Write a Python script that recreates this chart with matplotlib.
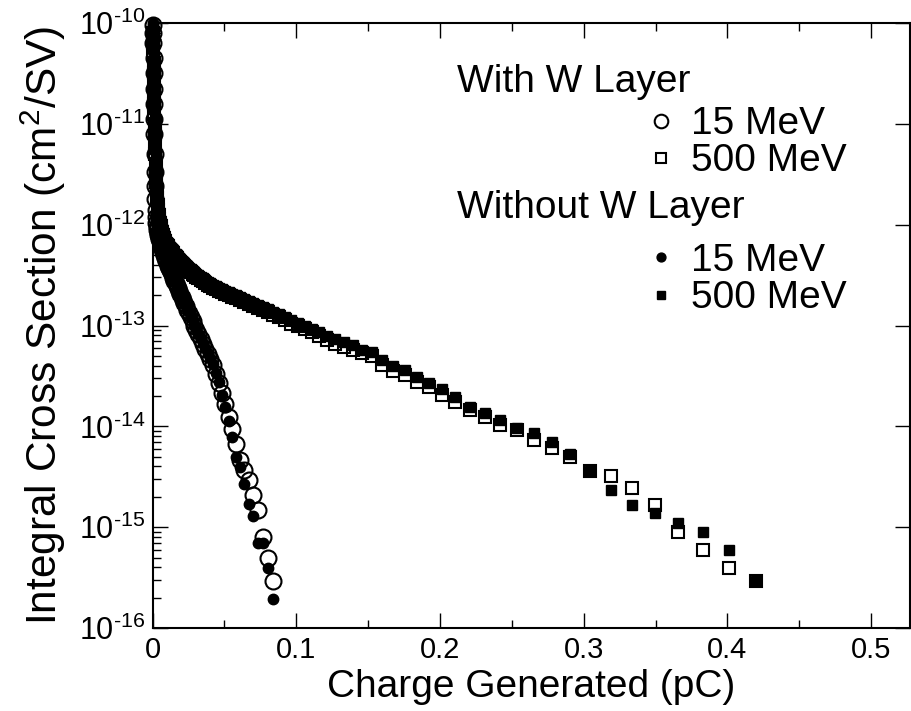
import numpy as np
import matplotlib.pyplot as plt
from matplotlib.ticker import LogLocator, MultipleLocator, NullFormatter

plt.rcParams['font.family'] = 'Liberation Sans'
plt.rcParams['mathtext.fontset'] = 'custom'
plt.rcParams['mathtext.rm'] = 'Liberation Sans'
plt.rcParams['mathtext.default'] = 'regular'

# charge thresholds (pC)
charge = [0.4200, 0.4011, 0.3831, 0.3659, 0.3495, 0.3338, 0.3188, 0.3045, 0.2908, 0.2778,
          0.2653, 0.2534, 0.2420, 0.2311, 0.2208, 0.2108, 0.2014, 0.1923, 0.1837, 0.1754,
          0.1676, 0.1600, 0.1528, 0.1460, 0.1394, 0.1332, 0.1272, 0.1215, 0.1160, 0.1108,
          0.1058, 0.1011, 0.0965, 0.0922, 0.0880, 0.0841, 0.0803, 0.0767, 0.0733, 0.0700,
          0.0668, 0.0638, 0.0610, 0.0582, 0.0556, 0.0531, 0.0507, 0.0485, 0.0463, 0.0442,
          0.0422, 0.0403, 0.0385, 0.0368, 0.0351, 0.0335, 0.0320, 0.0306, 0.0292, 0.0279,
          0.0266, 0.0254, 0.0243, 0.0232, 0.0222, 0.0212, 0.0202, 0.0193, 0.0184, 0.0176,
          0.0168, 0.0161, 0.0153, 0.0146, 0.0140, 0.0134, 0.0128, 0.0122, 0.0116, 0.0111,
          0.0106,
          0.0097, 0.0088, 0.0081, 0.0074, 0.0067, 0.0061, 0.0056, 0.0051, 0.0047, 0.0043,
          0.0039, 0.0035, 0.0032, 0.0029, 0.0026, 0.0024, 0.0022, 0.0020, 0.0018, 0.0016,
          0.0014, 0.0012, 0.0011, 0.0010, 0.0009, 0.0008, 0.0007, 0.0006, 0.0005, 0.0004]

# log10 of integral cross section (cm^2/SV)
sq_with_log = [-15.53, -15.40, -15.23, -15.05, -14.78, -14.61, -14.49, -14.44, -14.30, -14.21,
               -14.14, -14.04, -13.99, -13.91, -13.84, -13.76, -13.69, -13.61, -13.56, -13.49,
               -13.45, -13.39, -13.30, -13.27, -13.24, -13.21, -13.18, -13.14, -13.10, -13.06,
               -13.03, -13.00, -12.98, -12.95, -12.92, -12.90, -12.87, -12.85, -12.83, -12.81,
               -12.79, -12.77, -12.75, -12.73, -12.72, -12.70, -12.69, -12.67, -12.66, -12.64,
               -12.63, -12.61, -12.60, -12.58, -12.56, -12.55, -12.53, -12.52, -12.50, -12.49,
               -12.47, -12.46, -12.44, -12.43, -12.41, -12.40, -12.39, -12.37, -12.36, -12.35,
               -12.33, -12.32, -12.31, -12.30, -12.28, -12.27, -12.26, -12.25, -12.24, -12.22,
               -12.21,
               -12.19, -12.16, -12.13, -12.10, -12.07, -12.04, -12.01, -11.98, -11.94, -11.90,
               -11.85, -11.80, -11.74, -11.66, -11.58, -11.50, -11.40, -11.30, -11.20, -11.10,
               -11.00, -10.90, -10.80, -10.70, -10.60, -10.50, -10.40, -10.30, -10.20, -10.10]

sq_without_log = [-15.53, -15.23, -15.05, -14.96, -14.86, -14.78, -14.63, -14.44, -14.27, -14.16,
                  -14.07, -14.02, -13.94, -13.87, -13.81, -13.71, -13.63, -13.57, -13.51, -13.44,
                  -13.40, -13.34, -13.26, -13.24, -13.19, -13.16, -13.13, -13.10, -13.06, -13.03,
                  -13.00, -12.97, -12.95, -12.92, -12.89, -12.87, -12.84, -12.82, -12.80, -12.78,
                  -12.76, -12.74, -12.72, -12.70, -12.69, -12.67, -12.66, -12.64, -12.63, -12.61,
                  -12.60, -12.58, -12.57, -12.55, -12.53, -12.52, -12.50, -12.49, -12.47, -12.46,
                  -12.44, -12.43, -12.41, -12.40, -12.38, -12.37, -12.36, -12.34, -12.33, -12.32,
                  -12.30, -12.29, -12.28, -12.27, -12.25, -12.24, -12.23, -12.22, -12.21, -12.19,
                  -12.18,
                  -12.16, -12.13, -12.10, -12.07, -12.04, -12.01, -11.98, -11.95, -11.91, -11.87,
                  -11.82, -11.76, -11.70, -11.62, -11.54, -11.45, -11.35, -11.25, -11.15, -11.05,
                  -10.95, -10.85, -10.75, -10.65, -10.55, -10.45, -10.35, -10.25, -10.15, -10.05]

# 15 MeV series start at the 36th threshold (0.0841 pC)
circ_start = 35
circ_with_log = [-15.53, -15.31, -15.10, -14.83, -14.68, -14.53, -14.43, -14.33, -14.17, -14.03,
                 -13.91, -13.78, -13.67, -13.57, -13.48, -13.39, -13.33, -13.28, -13.23, -13.18,
                 -13.13, -13.08, -13.04, -13.00, -12.96, -12.92, -12.88, -12.85, -12.81, -12.78,
                 -12.75, -12.72, -12.69, -12.66, -12.63, -12.61, -12.58, -12.56, -12.53, -12.51,
                 -12.49, -12.47, -12.45, -12.43, -12.41, -12.39,
                 -12.36, -12.33, -12.30, -12.27, -12.24, -12.21, -12.19, -12.16, -12.14, -12.12,
                 -12.10, -12.08, -12.05, -12.02, -11.98, -11.92, -11.85, -11.75, -11.62, -11.48,
                 -11.30, -11.10, -10.95, -10.80, -10.65, -10.50, -10.35, -10.20, -10.10, -10.02]

circ_without_log = [-15.71, -15.40, -15.16, -15.16, -14.89, -14.77, -14.57, -14.40, -14.30, -14.11,
                    -13.95, -13.81, -13.69, -13.56, -13.47, -13.38, -13.32, -13.27, -13.22, -13.17,
                    -13.12, -13.08, -13.03, -12.99, -12.95, -12.91, -12.87, -12.84, -12.80, -12.77,
                    -12.74, -12.71, -12.68, -12.65, -12.62, -12.60, -12.57, -12.55, -12.52, -12.50,
                    -12.48, -12.46, -12.44, -12.42, -12.40, -12.38,
                    -12.35, -12.32, -12.29, -12.26, -12.23, -12.20, -12.18, -12.15, -12.13, -12.11,
                    -12.09, -12.06, -12.03, -11.99, -11.94, -11.87, -11.78, -11.66, -11.52, -11.36,
                    -11.18, -11.00, -10.85, -10.70, -10.55, -10.40, -10.25, -10.10, -10.03, -10.00]

x_ticks = [0, 0.1, 0.2, 0.3, 0.4, 0.5]
x_ticklabels = ['0', '0.1', '0.2', '0.3', '0.4', '0.5']
y_ticks = [1e-16, 1e-15, 1e-14, 1e-13, 1e-12, 1e-11, 1e-10]
y_ticklabels = [r'$10^{\text{-}16}$', r'$10^{\text{-}15}$', r'$10^{\text{-}14}$',
                r'$10^{\text{-}13}$', r'$10^{\text{-}12}$', r'$10^{\text{-}11}$',
                r'$10^{\text{-}10}$']

x = np.array(charge)
xc = x[circ_start:]

fig = plt.figure(figsize=(9.11, 7.11), dpi=100)
ax = fig.add_axes([0.1674, 0.1167, 0.8315, 0.8509])

h1, = ax.plot(xc, 10.0 ** np.array(circ_with_log), ls='none', marker='o', ms=11.5,
              mfc='none', mec='black', mew=1.5, clip_on=False)
h2, = ax.plot(x, 10.0 ** np.array(sq_with_log), ls='none', marker='s', ms=8.5,
              mfc='none', mec='black', mew=1.5, clip_on=False)
h3, = ax.plot(xc, 10.0 ** np.array(circ_without_log), ls='none', marker='o', ms=7.5,
              color='black', clip_on=False)
h4, = ax.plot(x, 10.0 ** np.array(sq_without_log), ls='none', marker='s', ms=6.5,
              color='black', clip_on=False)

ax.set_yscale('log')
ax.set_ylim(1e-16, 1e-10)
ax.set_xlim(0, 0.527)
ax.set_xticks(x_ticks)
ax.set_xticklabels(x_ticklabels)
ax.xaxis.set_minor_locator(MultipleLocator(0.05))
ax.set_yticks(y_ticks)
ax.set_yticklabels(y_ticklabels)
ax.yaxis.set_minor_locator(LogLocator(base=10, subs=np.arange(2, 10), numticks=100))
ax.yaxis.set_minor_formatter(NullFormatter())

ax.tick_params(which='both', direction='in', top=True, right=True, width=1)
ax.tick_params(which='major', length=11, labelsize=21)
ax.tick_params(which='minor', length=5.5)
ax.tick_params(axis='y', which='minor', right=False)
ax.tick_params(axis='y', which='major', labelsize=22, pad=5)
ax.tick_params(axis='x', pad=6)
for s in ax.spines.values():
    s.set_linewidth(1.5)

ax.set_xlabel('Charge Generated (pC)', fontsize=28, labelpad=3)
ax.set_ylabel('Integral Cross Section (cm$^{2}$/SV)', fontsize=30.5, labelpad=8)

ax.text(0.402, 0.8864, 'With W Layer', transform=ax.transAxes, fontsize=28,
        ha='left', va='baseline')
ax.text(0.402, 0.6772, 'Without W Layer', transform=ax.transAxes, fontsize=28,
        ha='left', va='baseline')

leg_kw = dict(loc='center left', frameon=False, fontsize=28, borderpad=0,
              borderaxespad=0, handlelength=1.0, handletextpad=0.28,
              labelspacing=0.03, markerscale=0.85)
leg1 = ax.legend([h1, h2], ['15 MeV', '500 MeV'], bbox_to_anchor=(0.6453, 0.802), **leg_kw)
ax.add_artist(leg1)
ax.legend([h3, h4], ['15 MeV', '500 MeV'], bbox_to_anchor=(0.6453, 0.576), **leg_kw)

fig.savefig('out.png', dpi=100)
